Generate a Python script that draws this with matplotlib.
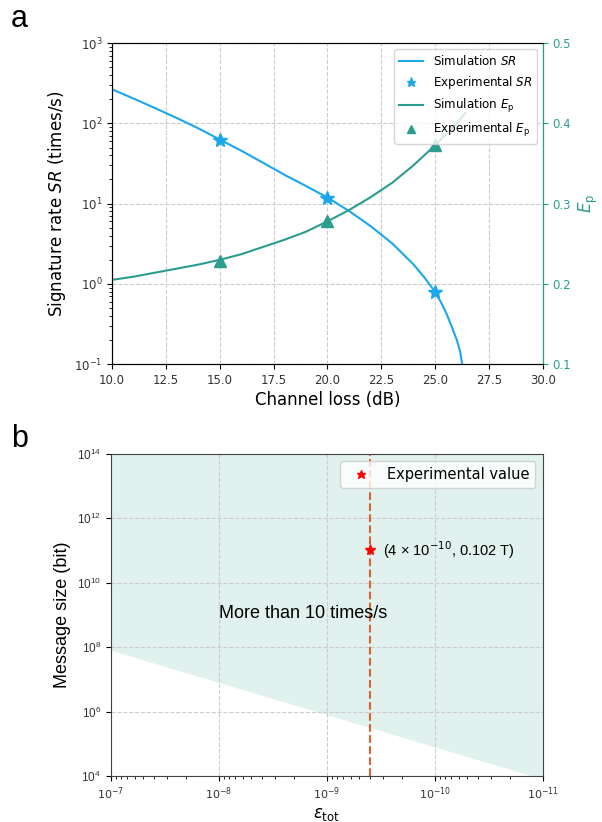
import numpy as np
import matplotlib
matplotlib.use("Agg")
import matplotlib.pyplot as plt
from matplotlib.ticker import NullLocator, FixedLocator, LogLocator

# panel a: simulation curves
loss_sim = [10, 11, 12, 13, 14, 15, 16, 17, 18, 19, 20, 21, 22, 23, 24, 24.5, 25,
            25.25, 25.5, 25.75, 26, 26.15, 26.25]
sr_sim = [266, 204, 155, 117, 87, 63, 45.7, 32.4, 22.9, 16.6, 11.9, 8.1, 5.25, 3.2, 1.74, 1.2, 0.79,
          0.60, 0.44, 0.30, 0.20, 0.145, 0.1]
loss_ep = [10, 11, 12, 13, 14, 15, 16, 17, 18, 19, 20, 21, 22, 23, 24, 25, 26, 26.4]
ep_sim = [0.205, 0.209, 0.214, 0.219, 0.224, 0.230, 0.237, 0.246, 0.255, 0.265, 0.278, 0.292,
          0.308, 0.326, 0.348, 0.373, 0.400, 0.413]

# experimental points
loss_exp = [15, 20, 25]
sr_exp = [63, 11.9, 0.79]
ep_exp = [0.229, 0.279, 0.373]

# panel b
eps_bound = [1e-7, 1e-11]
msg_bound = [8e7, 8e3]
eps_exp = 4e-10
msg_exp = 1.02e11
eps_ticks = [1e-7, 1e-8, 1e-9, 1e-10, 1e-11]
msg_ticks = [1e4, 1e6, 1e8, 1e10, 1e12, 1e14]

blue = '#1aa7ec'
teal = '#2a9d8f'
grid_kw = dict(color='#cccccc', linestyle='--', linewidth=0.8)

fig = plt.figure(figsize=(6.02, 8.22), dpi=100)

# ---------------- panel a ----------------
ax = fig.add_axes([0.186, 0.557, 0.716, 0.3905])
ax.plot(loss_sim, sr_sim, color=blue, lw=1.5, label='Simulation $SR$')
ax.plot(loss_exp, sr_exp, '*', color=blue, ms=10, label='Experimental $SR$')
ax.set_yscale('log')
ax.set_xlim(10, 30)
ax.set_ylim(0.1, 1000)
ax.set_xticks(np.arange(10, 30.1, 2.5))
ax.grid(True, which='major', **grid_kw)
ax.tick_params(labelsize=8.5, labelcolor='#333333')
ax.set_xlabel('Channel loss (dB)', fontsize=12, labelpad=3)
ax.set_ylabel('Signature rate $SR$ (times/s)', fontsize=12)
for s in ax.spines.values():
    s.set_color('#444444')

ax2 = ax.twinx()
ax2.plot(loss_ep, ep_sim, color=teal, lw=1.5, label='Simulation $E_\\mathrm{p}$')
ax2.plot(loss_exp, ep_exp, '^', color=teal, ms=8, label='Experimental $E_\\mathrm{p}$')
ax2.set_ylim(0.1, 0.5)
ax2.set_yticks([0.1, 0.2, 0.3, 0.4, 0.5])
ax2.tick_params(axis='y', colors=teal, labelsize=8.5)
ax2.spines['right'].set_color(teal)
ax2.set_ylabel('$E_\\mathrm{p}$', color=teal, fontsize=12)

h1, l1 = ax.get_legend_handles_labels()
h2, l2 = ax2.get_legend_handles_labels()
ax2.legend(h1 + h2, l1 + l2, loc='upper right', fontsize=8.6, markerscale=0.65)

# ---------------- panel b ----------------
bx = fig.add_axes([0.184, 0.056, 0.7176, 0.392])
bx.fill_between(eps_bound, msg_bound, 1e14, color='#e1f1ee', lw=0)
bx.axvline(eps_exp, color='#e0602e', ls='--', lw=1.5)
bx.plot([eps_exp], [msg_exp], '*', color='red', ms=8, ls='none', label='Experimental value')
bx.set_xscale('log')
bx.set_yscale('log')
bx.set_xlim(1e-7, 1e-11)
bx.set_ylim(1e4, 1e14)
bx.xaxis.set_major_locator(FixedLocator(eps_ticks))
bx.xaxis.set_minor_locator(LogLocator(base=10, subs=np.arange(2, 10)))
bx.yaxis.set_major_locator(FixedLocator(msg_ticks))
bx.yaxis.set_minor_locator(NullLocator())
bx.grid(True, which='major', **grid_kw)
bx.tick_params(axis='x', labelsize=8, labelcolor='#333333')
bx.tick_params(axis='y', labelsize=8.5, labelcolor='#333333')
for t in bx.get_yticklabels():
    t.set_fontfamily('Liberation Sans')
for s in bx.spines.values():
    s.set_color('#444444')
bx.set_xlabel('$\\epsilon_{\\mathrm{tot}}$', fontsize=12, labelpad=2)
bx.set_ylabel('Message size (bit)', fontsize=13, family='Liberation Sans')
bx.text(1e-8, 1.1e9, 'More than 10 times/s', fontsize=13, family='Liberation Sans',
        ha='left', va='center')
bx.text(3e-10, 1e11, '(4 × 10$^{-10}$, 0.102 T)', fontsize=10.5, family='Liberation Sans',
        ha='left', va='center')
bx.legend(loc='upper right', fontsize=10.5, markerscale=0.8)

fig.text(0.018, 1 - 27 / 822, 'a', fontsize=22, family='Liberation Sans', va='baseline')
fig.text(0.018, 1 - 447 / 822, 'b', fontsize=22, family='Liberation Sans', va='baseline')

fig.savefig('out.png', dpi=100)
